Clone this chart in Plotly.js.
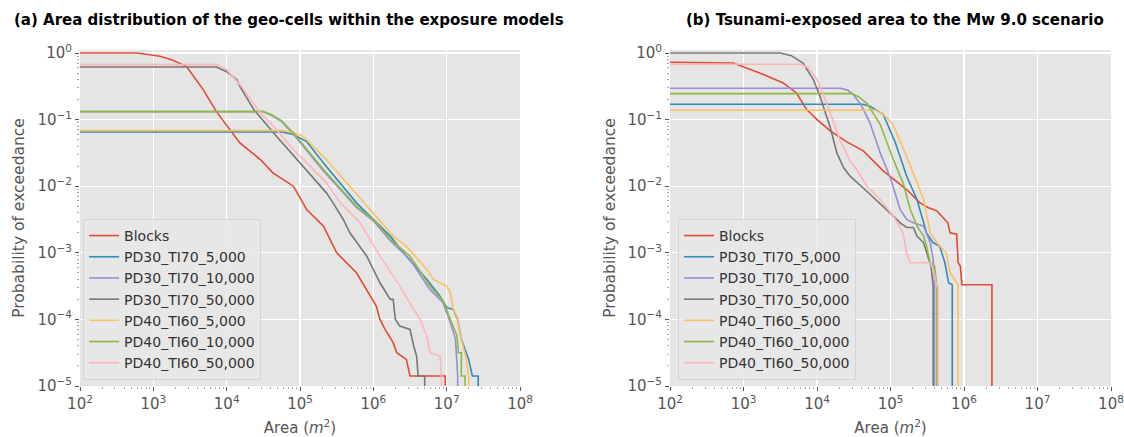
<!DOCTYPE html>
<html>
<head>
<meta charset="utf-8">
<script src="https://cdn.plot.ly/plotly-3.0.1.min.js"></script>
<style>html,body{margin:0;padding:0;background:#fff;}#chart{width:1124px;height:437px;}</style>
</head>
<body>
<div id="chart"></div>
<script>
// Series names and colours
const seriesNames = ["Blocks","PD30_TI70_5,000","PD30_TI70_10,000","PD30_TI70_50,000","PD40_TI60_5,000","PD40_TI60_10,000","PD40_TI60_50,000"];
const seriesColors = ["#E24A33","#348ABD","#988ED5","#777777","#FBC15E","#8EBA42","#FFB5B8"];

// Tick labels (exponents of 10)
const xTickExp = [2,3,4,5,6,7,8];
const yTickExp = [-5,-4,-3,-2,-1,0];

// ---- Panel (a): log10(area m2) and log10(probability of exceedance) ----
const a_blocks_logx = [2,2.78,3.09,3.25,3.45,3.68,3.86,4.07,4.18,4.46,4.63,4.91,5.09,5.32,5.5,5.77,5.9,6.04,6.09,6.16,6.27,6.32,6.45,6.5,6.98,6.98];
const a_blocks_logy = [0,0,-0.05,-0.1,-0.2,-0.55,-0.88,-1.2,-1.35,-1.6,-1.8,-2.0,-2.35,-2.6,-3.0,-3.3,-3.55,-3.8,-4.0,-4.15,-4.35,-4.5,-4.6,-4.85,-4.85,-6];

const a_pd30_5k_logx = [2,4.75,4.9,5.04,5.09,5.32,5.77,6.23,6.45,6.73,6.91,7.0,7.09,7.15,7.2,7.3,7.35,7.43,7.43];
const a_pd30_5k_logy = [-1.185,-1.185,-1.22,-1.3,-1.33,-1.65,-2.25,-2.75,-3.05,-3.4,-3.65,-3.82,-3.85,-4.0,-4.3,-4.6,-4.85,-4.85,-6];

const a_pd30_10k_logx = [2,4.5,4.6,4.75,4.91,5.32,5.77,6.0,6.23,6.5,6.77,6.95,7.05,7.12,7.15,7.15];
const a_pd30_10k_logy = [-0.88,-0.88,-0.93,-1.03,-1.22,-1.77,-2.32,-2.52,-2.82,-3.1,-3.55,-3.75,-4.05,-4.3,-4.85,-6];

const a_pd30_50k_logx = [2,3.86,4.0,4.14,4.18,4.37,4.64,5.0,5.09,5.36,5.45,5.59,5.68,5.91,6.09,6.23,6.27,6.3,6.36,6.5,6.55,6.59,6.61,6.7,6.7];
const a_pd30_50k_logy = [-0.21,-0.21,-0.28,-0.4,-0.5,-0.85,-1.2,-1.65,-1.75,-2.1,-2.25,-2.5,-2.7,-3.05,-3.45,-3.7,-3.7,-4.0,-4.1,-4.15,-4.4,-4.55,-4.85,-4.85,-6];

const a_pd40_5k_logx = [2,4.75,4.9,5.04,5.36,6.0,6.27,6.45,6.73,6.82,7.0,7.05,7.09,7.14,7.2,7.27,7.3,7.3];
const a_pd40_5k_logy = [-1.165,-1.165,-1.19,-1.25,-1.6,-2.4,-2.75,-2.9,-3.25,-3.4,-3.5,-3.6,-3.85,-3.95,-4.3,-4.6,-4.85,-6];

const a_pd40_10k_logx = [2,4.5,4.6,4.75,4.91,5.32,5.77,6.0,6.23,6.5,6.77,6.95,7.05,7.14,7.16,7.2,7.2,7.25,7.25];
const a_pd40_10k_logy = [-0.88,-0.88,-0.92,-1.02,-1.2,-1.75,-2.3,-2.5,-2.8,-3.05,-3.5,-3.72,-4.0,-4.25,-4.5,-4.5,-4.85,-4.85,-6];

const a_pd40_50k_logx = [2,3.86,4.0,4.2,4.46,4.64,4.91,5.09,5.36,5.55,5.82,6.09,6.36,6.55,6.64,6.73,6.77,6.91,6.93,6.93];
const a_pd40_50k_logy = [-0.175,-0.175,-0.25,-0.5,-0.9,-1.1,-1.45,-1.65,-1.95,-2.25,-2.55,-3.05,-3.5,-3.85,-4.0,-4.25,-4.5,-4.55,-4.85,-6];

// ---- Panel (b) ----
const b_blocks_logx = [2,2.7,2.86,3.22,3.54,3.72,3.86,4.0,4.18,4.4,4.63,4.9,5.08,5.22,5.4,5.51,5.63,5.72,5.78,5.81,5.9,5.92,5.95,5.97,6.38,6.38];
const b_blocks_logy = [-0.14,-0.14,-0.15,-0.3,-0.45,-0.6,-0.85,-1.0,-1.17,-1.33,-1.47,-1.77,-1.92,-2.05,-2.25,-2.32,-2.37,-2.47,-2.55,-2.7,-2.72,-3.15,-3.2,-3.48,-3.48,-6];

const b_pd30_5k_logx = [2,4.62,4.72,4.9,5.06,5.22,5.36,5.42,5.49,5.58,5.67,5.74,5.79,5.84,5.84];
const b_pd30_5k_logy = [-0.77,-0.77,-0.8,-0.92,-1.33,-1.85,-2.2,-2.45,-2.7,-2.85,-2.9,-3.15,-3.45,-3.48,-6];

const b_pd30_10k_logx = [2,4.32,4.42,4.49,4.6,4.72,4.86,5.0,5.13,5.22,5.31,5.45,5.54,5.58,5.6,5.6];
const b_pd30_10k_logy = [-0.53,-0.53,-0.56,-0.62,-0.78,-1.05,-1.5,-1.88,-2.35,-2.5,-2.55,-2.6,-2.85,-3.1,-3.5,-6];

const b_pd30_50k_logx = [2,3.5,3.65,3.81,3.95,4.04,4.18,4.27,4.36,4.45,4.68,4.9,5.04,5.13,5.22,5.31,5.36,5.45,5.49,5.55,5.58,5.58];
const b_pd30_50k_logy = [0,0,-0.04,-0.15,-0.4,-0.65,-1.12,-1.5,-1.72,-1.85,-2.08,-2.3,-2.45,-2.55,-2.62,-2.62,-2.75,-2.85,-3.0,-3.2,-3.5,-6];

const b_pd40_5k_logx = [2,4.8,4.9,5.03,5.2,5.36,5.45,5.54,5.63,5.76,5.81,5.9,5.92,5.92];
const b_pd40_5k_logy = [-0.86,-0.86,-0.92,-1.07,-1.5,-1.95,-2.2,-2.7,-2.85,-3.0,-3.3,-3.45,-3.48,-6];

const b_pd40_10k_logx = [2,4.47,4.57,4.68,4.86,5.02,5.17,5.27,5.36,5.45,5.49,5.54,5.6,5.63,5.63];
const b_pd40_10k_logy = [-0.61,-0.61,-0.66,-0.76,-1.07,-1.55,-1.95,-2.35,-2.6,-2.75,-2.9,-3.15,-3.2,-3.5,-6];

const b_pd40_50k_logx = [2,3.78,3.88,4.0,4.13,4.31,4.45,4.54,4.68,4.86,5.04,5.17,5.22,5.27,5.54,5.58,5.63,5.65,5.65];
const b_pd40_50k_logy = [-0.17,-0.17,-0.22,-0.4,-0.75,-1.3,-1.62,-1.75,-2.0,-2.2,-2.45,-2.7,-3.0,-3.15,-3.15,-3.25,-3.5,-3.52,-6];

const panelA = [
  [a_blocks_logx, a_blocks_logy],[a_pd30_5k_logx, a_pd30_5k_logy],[a_pd30_10k_logx, a_pd30_10k_logy],
  [a_pd30_50k_logx, a_pd30_50k_logy],[a_pd40_5k_logx, a_pd40_5k_logy],[a_pd40_10k_logx, a_pd40_10k_logy],[a_pd40_50k_logx, a_pd40_50k_logy]
];
const panelB = [
  [b_blocks_logx, b_blocks_logy],[b_pd30_5k_logx, b_pd30_5k_logy],[b_pd30_10k_logx, b_pd30_10k_logy],
  [b_pd30_50k_logx, b_pd30_50k_logy],[b_pd40_5k_logx, b_pd40_5k_logy],[b_pd40_10k_logx, b_pd40_10k_logy],[b_pd40_50k_logx, b_pd40_50k_logy]
];

const pow10 = v => Math.pow(10, v);
const traces = [];
panelA.forEach((s, i) => traces.push({
  x: s[0].map(pow10), y: s[1].map(pow10), type: 'scatter', mode: 'lines',
  name: seriesNames[i], line: {color: seriesColors[i], width: 1.6},
  xaxis: 'x', yaxis: 'y', legend: 'legend', hoverinfo: 'skip'
}));
panelB.forEach((s, i) => traces.push({
  x: s[0].map(pow10), y: s[1].map(pow10), type: 'scatter', mode: 'lines',
  name: seriesNames[i], line: {color: seriesColors[i], width: 1.6},
  xaxis: 'x2', yaxis: 'y2', legend: 'legend2', hoverinfo: 'skip'
}));

const FONT = 'DejaVu Sans, sans-serif';
const GRAY = '#555555';
const expText = e => '10<sup>' + (e < 0 ? '\u2212' + (-e) : e) + '</sup>';

function xAxis(domain, anchor) {
  return {
    type: 'log', domain: domain, anchor: anchor, range: [2, 8],
    tickmode: 'array', tickvals: xTickExp.map(pow10), ticktext: xTickExp.map(expText),
    showgrid: true, gridcolor: '#FFFFFF', gridwidth: 1.2, showline: false, zeroline: false,
    ticks: 'outside', ticklen: 4, tickwidth: 1, tickcolor: GRAY, ticklabeloverflow: 'allow',
    minor: {dtick: 'D1', ticks: 'outside', ticklen: 2, tickcolor: '#AAAAAA', showgrid: false},
    tickfont: {family: FONT, size: 15, color: GRAY},
    title: {text: 'Area (<i>m</i><sup>2</sup>)', font: {family: FONT, size: 15, color: GRAY}, standoff: 10}
  };
}
function yAxis(anchor) {
  return {
    type: 'log', anchor: anchor, domain: [0, 1], range: [-5, 0.045],
    tickmode: 'array', tickvals: yTickExp.map(pow10), ticktext: yTickExp.map(expText),
    showgrid: true, gridcolor: '#FFFFFF', gridwidth: 1.2, showline: false, zeroline: false,
    ticks: 'outside', ticklen: 4, tickwidth: 1, tickcolor: GRAY, ticklabeloverflow: 'allow',
    minor: {dtick: 'D1', ticks: 'outside', ticklen: 2, tickcolor: '#AAAAAA', showgrid: false},
    tickfont: {family: FONT, size: 15, color: GRAY},
    title: {text: 'Probability of exceedance', font: {family: FONT, size: 15.5, color: GRAY}, standoff: 8}
  };
}
const legendStyle = (x) => ({
  x: x, y: 0.018, xanchor: 'left', yanchor: 'bottom',
  bgcolor: 'rgba(232,232,232,0.85)', bordercolor: '#D4D4D4', borderwidth: 1,
  font: {family: FONT, size: 14, color: '#333333'}, tracegroupgap: 0
});

const layout = {
  width: 1124, height: 437,
  margin: {l: 80, r: 13, t: 50, b: 51},
  paper_bgcolor: '#FFFFFF', plot_bgcolor: '#E5E5E5',
  font: {family: FONT, color: GRAY},
  showlegend: true,
  xaxis: xAxis([0, 0.4268], 'y'),
  xaxis2: xAxis([0.5723, 1], 'y2'),
  yaxis: yAxis('x'),
  yaxis2: yAxis('x2'),
  legend: legendStyle(0.003),
  legend2: legendStyle(0.58),
  annotations: [
    {text: '<b>(a) Area distribution of the geo-cells within the exposure models</b>', xref: 'paper', yref: 'paper',
     x: -0.066, y: 1.089, xanchor: 'left', yanchor: 'middle', showarrow: false, font: {family: FONT, size: 15, color: '#000'}},
    {text: '<b>(b) Tsunami-exposed area to the Mw 9.0 scenario</b>', xref: 'paper', yref: 'paper',
     x: 0.7905, y: 1.089, xanchor: 'center', yanchor: 'middle', showarrow: false, font: {family: FONT, size: 15, color: '#000'}}
  ]
};

Plotly.newPlot('chart', traces, layout, {displayModeBar: false, staticPlot: true});
</script>
</body>
</html>
